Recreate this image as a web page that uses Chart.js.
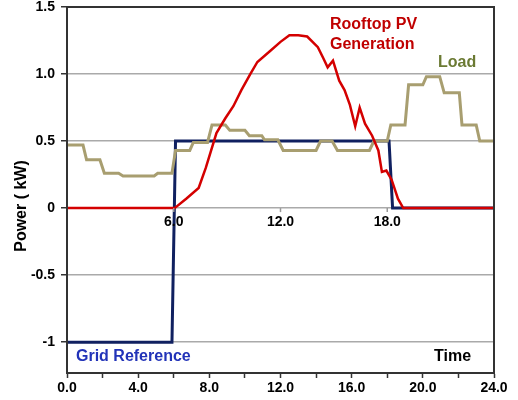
<!DOCTYPE html>
<html>
<head>
<meta charset="utf-8">
<script src="https://cdn.jsdelivr.net/npm/chart.js@4/dist/chart.umd.min.js"></script>
<style>
  body { margin: 0; background: #fff; }
  #wrap { width: 518px; height: 400px; }
</style>
</head>
<body>
<div id="wrap"><canvas id="power-chart" width="518" height="400"></canvas></div>
<script>
const gridTimes = [0, 5.9, 6.1, 18.1, 18.3, 24];
const gridPower = [-1, -1, 0.5, 0.5, 0, 0];

const loadTimes = [0, 0.9, 1.1, 1.85, 2.1, 2.9, 3.15, 4.9, 5.1, 5.9, 6.1, 6.9, 7.1, 7.9, 8.15, 8.9, 9.15, 10.0, 10.25, 10.95, 11.1, 11.85, 12.15, 14.0, 14.25, 14.9, 15.2, 17.0, 17.25, 18.0, 18.2, 19.0, 19.2, 20.0, 20.2, 20.95, 21.2, 22.05, 22.2, 23.0, 23.2, 24];
const loadPower = [0.47, 0.47, 0.36, 0.36, 0.26, 0.26, 0.24, 0.24, 0.26, 0.26, 0.43, 0.43, 0.49, 0.49, 0.62, 0.62, 0.58, 0.58, 0.54, 0.54, 0.51, 0.51, 0.43, 0.43, 0.5, 0.5, 0.43, 0.43, 0.5, 0.5, 0.62, 0.62, 0.92, 0.92, 0.98, 0.98, 0.86, 0.86, 0.62, 0.62, 0.5, 0.5];

const pvTimes = [0, 6.05, 6.7, 7.4, 7.8, 8.4, 8.9, 9.35, 9.8, 10.3, 10.7, 11.4, 12.0, 12.5, 13.0, 13.5, 14.1, 14.4, 14.65, 14.95, 15.3, 15.6, 15.9, 16.2, 16.45, 16.75, 17.15, 17.5, 17.7, 17.95, 18.25, 18.6, 18.9, 24];
const pvPower = [0, 0, 0.07, 0.15, 0.3, 0.56, 0.67, 0.76, 0.88, 1.0, 1.09, 1.17, 1.24, 1.29, 1.29, 1.28, 1.2, 1.12, 1.05, 1.1, 0.95, 0.88, 0.77, 0.61, 0.75, 0.63, 0.54, 0.43, 0.27, 0.28, 0.21, 0.07, 0, 0];

const xTicks = [0, 2, 4, 6, 8, 10, 12, 14, 16, 18, 20, 22, 24];
const xLabels = ['0.0', '', '4.0', '', '8.0', '', '12.0', '', '16.0', '', '20.0', '', '24.0'];
const yTicks = [-1, -0.5, 0, 0.5, 1, 1.5];
const yLabels = ['-1', '-0.5', '0', '0.5', '1.0', '1.5'];
const innerTicks = [6, 12, 18];
const innerLabels = ['6.0', '12.0', '18.0'];

const FONT = "Arial, 'Liberation Sans', sans-serif";

const toPoints = (xs, ys) => xs.map((x, i) => ({ x, y: ys[i] }));

const decorations = {
  id: 'decorations',
  afterDraw(chart) {
    const { ctx, chartArea: a, scales: { x, y } } = chart;
    ctx.save();
    ctx.strokeStyle = '#333';
    ctx.lineWidth = 2;
    ctx.strokeRect(a.left, a.top, a.right - a.left, a.bottom - a.top);

    const y0 = y.getPixelForValue(0);
    ctx.strokeStyle = '#999';
    ctx.lineWidth = 1.5;
    innerTicks.forEach(t => {
      const px = x.getPixelForValue(t);
      ctx.beginPath();
      ctx.moveTo(px, y0);
      ctx.lineTo(px, y0 + 4);
      ctx.stroke();
    });

    ctx.fillStyle = '#000';
    ctx.font = `bold 14px ${FONT}`;
    ctx.textAlign = 'center';
    ctx.textBaseline = 'middle';
    innerTicks.forEach((t, i) => {
      ctx.fillText(innerLabels[i], x.getPixelForValue(t), y0 + 14);
    });

    ctx.font = `bold 16px ${FONT}`;
    ctx.textAlign = 'left';
    ctx.fillStyle = '#c00000';
    ctx.fillText('Rooftop PV', 330, 25);
    ctx.fillText('Generation', 330, 45);
    ctx.fillStyle = '#6b7a33';
    ctx.fillText('Load', 438, 63);
    ctx.fillStyle = '#2233b8';
    ctx.fillText('Grid Reference', 76, 357);
    ctx.fillStyle = '#000';
    ctx.fillText('Time', 434, 357);

    ctx.translate(22, 206);
    ctx.rotate(-Math.PI / 2);
    ctx.textAlign = 'center';
    ctx.fillText('Power ( kW)', 0, 0);
    ctx.restore();
  }
};

const ctx = document.getElementById('power-chart').getContext('2d');
const powerChart = new Chart(ctx, {
  type: 'line',
  data: {
    datasets: [
      {
        label: 'Rooftop PV Generation',
        data: toPoints(pvTimes, pvPower),
        borderColor: '#d40000',
        borderWidth: 2.5
      },
      {
        label: 'Load',
        data: toPoints(loadTimes, loadPower),
        borderColor: '#a89e70',
        borderWidth: 3
      },
      {
        label: 'Grid Reference',
        data: toPoints(gridTimes, gridPower),
        borderColor: '#102060',
        borderWidth: 3
      }
    ]
  },
  options: {
    responsive: false,
    animation: false,
    events: [],
    layout: { padding: { top: 7, right: 24, left: 0, bottom: 0 } },
    elements: { point: { radius: 0 }, line: { tension: 0, fill: false } },
    plugins: { legend: { display: false }, tooltip: { enabled: false } },
    scales: {
      x: {
        type: 'linear',
        min: 0,
        max: 24,
        afterBuildTicks: s => { s.ticks = xTicks.map(v => ({ value: v })); },
        afterFit: s => { s.height = 27; s.paddingLeft = 0; s.paddingRight = 0; },
        ticks: {
          autoSkip: false,
          maxRotation: 0,
          padding: 2,
          color: '#000',
          font: { family: FONT, size: 14, weight: 'bold' },
          callback: (v) => xLabels[xTicks.indexOf(v)]
        },
        grid: { drawOnChartArea: false, drawTicks: true, tickLength: 5, tickColor: '#333', tickWidth: 1.5 },
        border: { display: true, color: '#333', width: 2 }
      },
      y: {
        min: -1.23,
        max: 1.5,
        afterBuildTicks: s => { s.ticks = yTicks.map(v => ({ value: v })); },
        afterFit: s => { s.width = 67; s.paddingTop = 0; s.paddingBottom = 0; },
        ticks: {
          padding: 6,
          color: '#000',
          font: { family: FONT, size: 14, weight: 'bold' },
          callback: (v) => yLabels[yTicks.indexOf(v)]
        },
        grid: { color: '#aaaaaa', lineWidth: 1.5, drawTicks: true, tickLength: 6, tickColor: '#333', tickWidth: 1.5 },
        border: { display: true, color: '#333', width: 2 }
      }
    }
  },
  plugins: [decorations]
});
</script>
</body>
</html>
